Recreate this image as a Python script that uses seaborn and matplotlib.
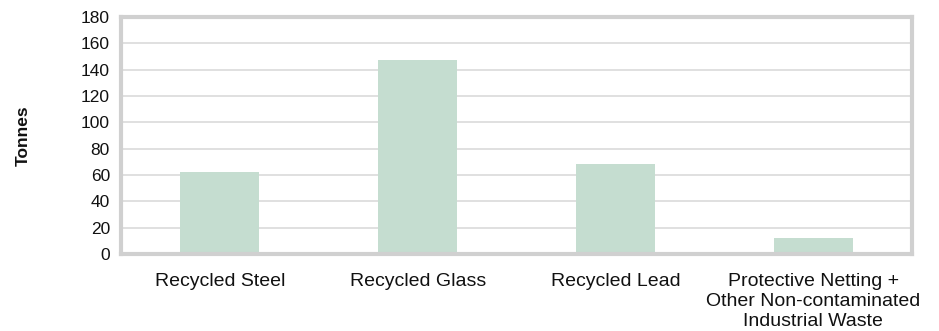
import matplotlib
matplotlib.use("Agg")
import matplotlib.pyplot as plt
import seaborn as sns
import pandas as pd
import numpy as np

categories = [
    "Recycled Steel",
    "Recycled Glass",
    "Recycled Lead",
    "Protective Netting +\nOther Non-contaminated\nIndustrial Waste",
]
tonnes = [62, 147, 68, 12]
y_ticks = [0, 20, 40, 60, 80, 100, 120, 140, 160, 180]

sns.set_theme(style="white")
plt.rcParams["font.family"] = ["Liberation Sans", "DejaVu Sans"]

df = pd.DataFrame({"category": categories, "tonnes": tonnes})

fig = plt.figure(figsize=(9.39, 3.31), dpi=100)
ax = fig.add_axes([121 / 939, 1 - 254 / 331, (912 - 121) / 939, (254 - 17) / 331])

grid_col = "#dddddd"
spine_col = "#d0d0d0"

for t in y_ticks[1:-1]:
    ax.axhline(t, color=grid_col, lw=1.3, zorder=0)

sns.barplot(data=df, x="category", y="tonnes", color="#c5ddd0", width=0.4,
            saturation=1, linewidth=0, ax=ax, zorder=2)

ax.set_xlim(-0.5, len(categories) - 0.5)
ax.set_ylim(0, 180)
ax.set_yticks(y_ticks)
ax.set_yticklabels([str(v) for v in y_ticks], fontsize=12.5, color="#111111")
ax.tick_params(axis="y", length=0, pad=8)

ax.set_xticks(range(len(categories)))
ax.set_xticklabels(categories, fontsize=14, color="#111111", linespacing=1.2)
ax.tick_params(axis="x", which="major", length=0, pad=14)
ax.set_xticks(np.arange(-0.5, len(categories), 1.0), minor=True)
ax.tick_params(axis="x", which="minor", length=9, width=3, color=spine_col, direction="out")

ax.set_xlabel("")
ax.set_ylabel("Tonnes", fontsize=12.5, fontweight="bold", color="#111111", labelpad=36)

for side in ["left", "right", "top", "bottom"]:
    ax.spines[side].set_visible(True)
    ax.spines[side].set_color(spine_col)
    ax.spines[side].set_linewidth(3)

fig.savefig("out.png", dpi=100, facecolor="white")
